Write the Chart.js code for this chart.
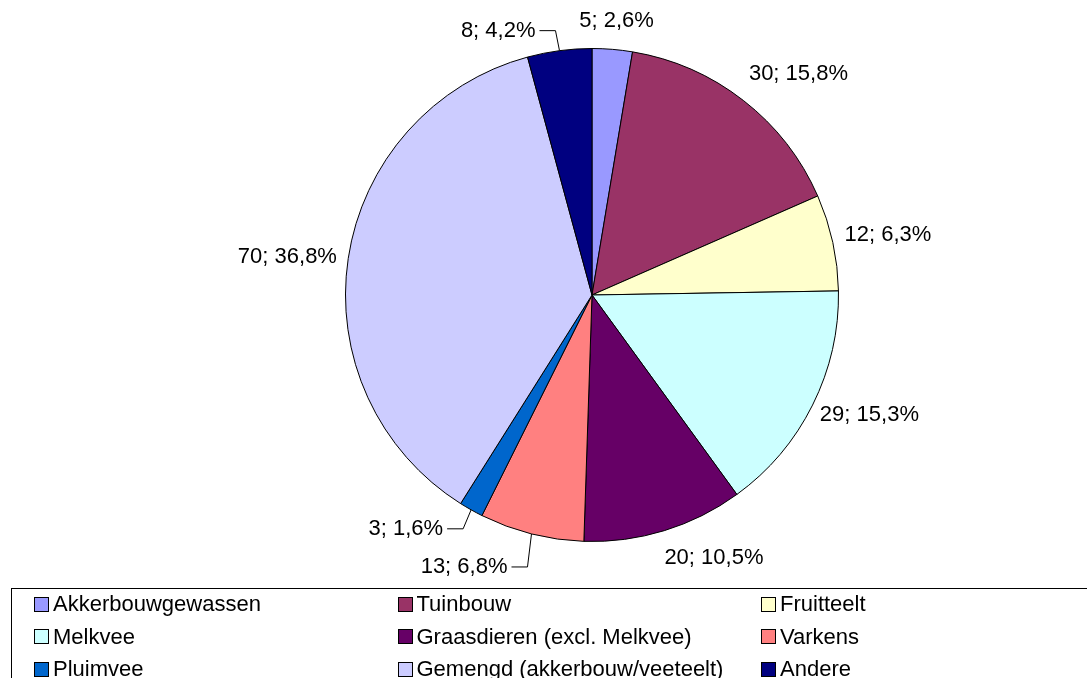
<!DOCTYPE html>
<html>
<head>
<meta charset="utf-8">
<script src="https://cdn.jsdelivr.net/npm/chart.js@4.4.1/dist/chart.umd.min.js"></script>
<style>
  body { margin: 0; background: #fff; }
  #wrap { position: relative; width: 1087px; height: 678px; overflow: hidden; }
  #pie { position: absolute; left: 0; top: 0; }
  #legend {
    position: absolute; left: 11px; top: 588px; width: 1120px; height: 120px;
    border: 1px solid #000; box-sizing: border-box;
    font-family: "Liberation Sans", Arial, sans-serif; font-size: 22px; color: #000;
  }
  .item { position: absolute; display: flex; align-items: center; height: 24px; white-space: nowrap; }
  .box { width: 13px; height: 13px; border: 1px solid #000; margin-right: 4px; }
</style>
</head>
<body>
<div id="wrap">
  <canvas id="pie" width="1087" height="678"></canvas>
  <div id="legend"></div>
</div>
<script>
// Bedrijfstypes
const categories = ['Akkerbouwgewassen', 'Tuinbouw', 'Fruitteelt', 'Melkvee', 'Graasdieren (excl. Melkvee)',
    'Varkens', 'Pluimvee', 'Gemengd (akkerbouw/veeteelt)', 'Andere'];
const counts = [5, 30, 12, 29, 20, 13, 3, 70, 8];
const colors = ['#9999FF', '#993366', '#FFFFCC', '#CCFFFF', '#660066', '#FF8080', '#0066CC', '#CCCCFF', '#000080'];

// kleine verschuivingen van de labels (px), en knikpunten van de hulplijnen
const labelNudge = [[0, -6], [16, -9], [-1, -3], [0, 0], [31, 6], [0, 0], [0, 0], [2, 2], [0, 0]];
const leaders = { 5: [-4, 33], 6: [-8, 19], 8: [-4, -20] };

const FONT = '22px "Liberation Sans", Arial, sans-serif';
const total = counts.reduce((a, b) => a + b, 0);
const labelText = i => counts[i] + '; ' + (counts[i] / total * 100).toFixed(1).replace('.', ',') + '%';

// labels buiten de taart
const outsideLabels = {
    id: 'outsideLabels',
    afterDatasetsDraw(chart) {
        const ctx = chart.ctx;
        const arcs = chart.getDatasetMeta(0).data;
        ctx.save();
        ctx.font = FONT;
        ctx.fillStyle = '#000';
        ctx.strokeStyle = '#000';
        ctx.lineWidth = 1;
        ctx.textBaseline = 'middle';
        arcs.forEach((arc, i) => {
            const mid = (arc.startAngle + arc.endAngle) / 2;
            const s = Math.cos(mid), c = -Math.sin(mid); // s: naar rechts, c: naar boven
            const txt = labelText(i);
            const w = ctx.measureText(txt).width;
            if (leaders[i]) {
                const ex = arc.x + arc.outerRadius * s;
                const ey = arc.y - arc.outerRadius * c;
                const kx = ex + leaders[i][0], ky = ey + leaders[i][1];
                ctx.beginPath();
                ctx.moveTo(ex, ey);
                ctx.lineTo(kx, ky);
                ctx.lineTo(kx - 16, ky);
                ctx.stroke();
                ctx.textAlign = 'right';
                ctx.fillText(txt, kx - 20, ky);
            } else {
                const R = arc.outerRadius + 14;
                const x = arc.x + R * s + s * w / 2 + labelNudge[i][0];
                const y = arc.y - R * c - c * 8 + labelNudge[i][1];
                ctx.textAlign = 'center';
                ctx.fillText(txt, x, y);
            }
        });
        ctx.restore();
    }
};

new Chart(document.getElementById('pie'), {
    type: 'pie',
    data: {
        labels: categories,
        datasets: [{
            data: counts,
            backgroundColor: colors,
            borderColor: '#000',
            borderWidth: 1
        }]
    },
    options: {
        responsive: false,
        animation: false,
        layout: { padding: { top: 47, bottom: 135, left: 345, right: 248 } },
        plugins: {
            legend: { display: false },
            tooltip: { enabled: false }
        }
    },
    plugins: [outsideLabels]
});

// legenda, 3 kolommen
const legend = document.getElementById('legend');
categories.forEach((name, i) => {
    const el = document.createElement('div');
    el.className = 'item';
    el.style.left = (22 + (i % 3) * 363.5) + 'px';
    el.style.top = (3 + Math.floor(i / 3) * 32.5) + 'px';
    el.innerHTML = '<span class="box" style="background:' + colors[i] + '"></span>' + name;
    legend.appendChild(el);
});
</script>
</body>
</html>
